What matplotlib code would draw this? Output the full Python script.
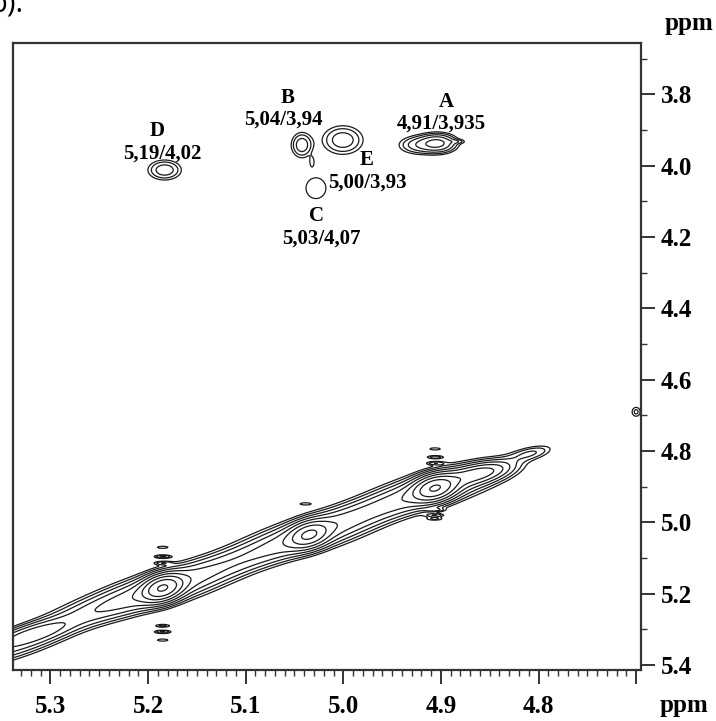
import numpy as np
import matplotlib.pyplot as plt
from matplotlib.ticker import MultipleLocator, FixedLocator

# --- Peakliste (ppm F2, ppm F1, Intensität, Breiten, Korrelation) -------------
# Diagonale
diag_x   = [5.345, 5.315, 5.250, 5.185, 5.185, 5.110, 5.035, 5.035, 4.970, 4.906, 4.906, 4.860, 4.808, 4.700]
diag_y   = [5.350, 5.310, 5.245, 5.184, 5.184, 5.110, 5.035, 5.035, 4.966, 4.904, 4.904, 4.862, 4.806, 4.690]
diag_amp = [4.0,   4.0,   3.5,   20.0,  6.0,   3.5,   12.0,  6.0,   3.5,   20.0,  6.0,   7.0,   2.2,   1.7]
diag_sx  = [0.040, 0.024, 0.040, 0.012, 0.042, 0.042, 0.012, 0.042, 0.042, 0.013, 0.042, 0.020, 0.015, 0.004]
diag_sy  = [0.040, 0.024, 0.040, 0.022, 0.042, 0.042, 0.022, 0.042, 0.042, 0.022, 0.042, 0.020, 0.015, 0.012]
diag_rho = [0.78,  0.70,  0.76,  0.30,  0.70,  0.78,  0.30,  0.70,  0.78,  0.30,  0.70,  0.55,  0.55,  0.0]

# Kreuzsignale A-E (+ Ausläufer)
cross_x   = [4.903, 4.925, 4.883, 5.0425, 5.032, 5.0005, 5.028, 5.183]
cross_y   = [3.937, 3.942, 3.932, 3.942,  3.990, 3.928,  4.063, 4.012]
cross_amp = [5.5,   2.5,   1.15,  3.0,    1.2,   3.0,    1.4,   3.0]
cross_sx  = [0.012, 0.013, 0.006, 0.0073, 0.002, 0.014,  0.0124, 0.01155]
cross_sy  = [0.017, 0.017, 0.004, 0.0236, 0.012, 0.027,  0.0354, 0.0189]

# t1-Rauschen (Streifen über/unter den Diagonalsignalen)
noise_x   = [5.185, 5.185, 5.185, 5.185, 5.185, 5.185, 4.906, 4.906, 4.906, 4.906, 4.906, 4.906, 5.039]
noise_y   = [5.070, 5.096, 5.114, 5.290, 5.307, 5.330, 4.794, 4.817, 4.834, 4.965, 4.980, 4.990, 4.948]
noise_amp = [1.4,   2.4,   1.8,   1.8,   2.4,   1.4,   1.4,   2.0,   1.8,   1.8,   2.0,   1.6,   1.3]

# Beschriftungen
labels = ["A", "B", "C", "D", "E"]
shifts = ["4,91/3,935", "5,04/3,94", "5,03/4,07", "5,19/4,02", "5,00/3,93"]

x_major = [5.3, 5.2, 5.1, 5.0, 4.9, 4.8, 4.7]
x_ticklabels = ["5.3", "5.2", "5.1", "5.0", "4.9", "4.8", ""]
y_major = [3.8, 4.0, 4.2, 4.4, 4.6, 4.8, 5.0, 5.2, 5.4]
y_ticklabels = ["3.8", "4.0", "4.2", "4.4", "4.6", "4.8", "5.0", "5.2", "5.4"]


def gauss2d(X, Y, x0, y0, a, sx, sy, rho=0.0):
    dx = (X - x0) / sx
    dy = (Y - y0) / sy
    q = (dx**2 - 2 * rho * dx * dy + dy**2) / (2 * (1 - rho**2))
    return a * np.exp(-q)


# --- Feld aufbauen ------------------------------------------------------------
xs = np.linspace(5.36, 4.68, 900)
ys = np.linspace(3.64, 5.43, 900)
X, Y = np.meshgrid(xs, ys)
Z = np.zeros_like(X)

for i in range(len(diag_x)):
    Z += gauss2d(X, Y, diag_x[i], diag_y[i], diag_amp[i], diag_sx[i], diag_sy[i], diag_rho[i])
for i in range(len(cross_x)):
    Z += gauss2d(X, Y, cross_x[i], cross_y[i], cross_amp[i], cross_sx[i], cross_sy[i])
for i in range(len(noise_x)):
    Z += gauss2d(X, Y, noise_x[i], noise_y[i], noise_amp[i], 0.0065, 0.0035)

levels = 1.5 ** np.arange(0, 10)

# --- Plot ---------------------------------------------------------------------
serif = "Liberation Serif"
fig = plt.figure(figsize=(7.16, 7.21), dpi=100)
ax = fig.add_axes([0.0186, 0.0707, 0.8767, 0.8701])

ax.contour(X, Y, Z, levels=levels, colors="#1a1a1a", linewidths=0.9)

ax.set_xlim(5.338, 4.695)
ax.set_ylim(5.414, 3.655)

for spine in ax.spines.values():
    spine.set_linewidth(1.6)
    spine.set_color("#333333")

# x-Achse unten
ax.xaxis.set_major_locator(FixedLocator(x_major))
ax.set_xticklabels(x_ticklabels)
ax.xaxis.set_minor_locator(MultipleLocator(0.01))
ax.tick_params(axis="x", which="major", direction="out", length=10, width=1.4,
               pad=8, labelsize=18, color="#333333")
ax.tick_params(axis="x", which="minor", direction="out", length=4, width=1.0, color="#333333")

# y-Achse rechts
ax.yaxis.tick_right()
ax.yaxis.set_major_locator(FixedLocator(y_major))
ax.set_yticklabels(y_ticklabels)
ax.yaxis.set_minor_locator(MultipleLocator(0.1))
ax.tick_params(axis="y", which="major", direction="out", length=10, width=1.4,
               pad=4, labelsize=18, color="#333333")
ax.tick_params(axis="y", which="minor", direction="out", length=4, width=1.0, color="#333333")

for lab in ax.get_xticklabels() + ax.get_yticklabels():
    lab.set_fontfamily(serif)
    lab.set_fontweight("bold")

# Signalbeschriftungen
lab_pos = {"A": (4.8943, 3.8207), "B": (5.0569, 3.809), "C": (5.0275, 4.1406),
           "D": (5.1911, 3.9015), "E": (4.9762, 3.9828)}
shift_pos = {"A": (4.8994, 3.8813), "B": (5.061, 3.870), "C": (5.022, 4.203),
             "D": (5.1857, 3.966), "E": (4.9749, 4.0473)}
for lab, sh in zip(labels, shifts):
    ax.text(*lab_pos[lab], lab, ha="center", va="center", fontsize=15,
            fontfamily=serif, fontweight="bold")
    ax.text(*shift_pos[lab], sh, ha="center", va="center", fontsize=15,
            fontfamily=serif, fontweight="bold")

# ppm-Beschriftungen
fig.text(0.962, 0.968, "ppm", ha="center", va="center", fontsize=18,
         fontfamily=serif, fontweight="bold")
fig.text(0.955, 0.021, "ppm", ha="center", va="center", fontsize=18,
         fontfamily=serif, fontweight="bold")

# abgeschnittener Bildunterschrift-Rest oben links
fig.text(-0.014, 0.984, "b).", ha="left", va="baseline", fontsize=21,
         fontfamily="Open Sans")

fig.savefig("out.png", dpi=100)
plt.close(fig)
